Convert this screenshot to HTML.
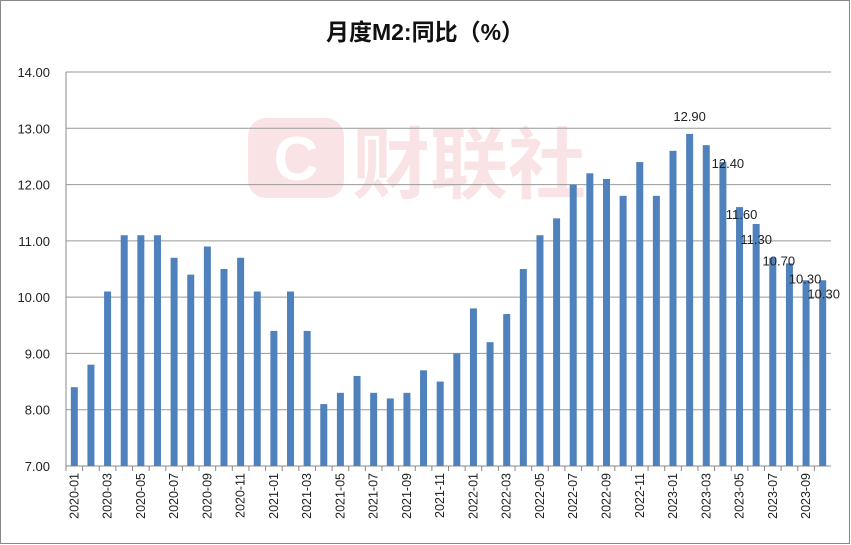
<!DOCTYPE html>
<html><head><meta charset="utf-8"><style>
body{margin:0;background:#fff;}
svg{display:block;font-family:"Liberation Sans","Noto Sans CJK SC",sans-serif;}
</style></head><body>
<svg id="chart" width="851" height="545" viewBox="0 0 851 545">
<rect x="0.5" y="0.5" width="849" height="543" fill="#fff" stroke="#888"/>
<g opacity="0.13">
<rect x="248" y="118" width="96" height="80" rx="18" fill="#e0303a"/>
<text x="296" y="180" font-size="62" font-weight="bold" fill="#fff" text-anchor="middle">C</text>
<text x="352" y="192" font-size="78" font-weight="bold" fill="#e0303a">财联社</text>
</g>
<text x="425" y="40" font-size="23" font-weight="bold" text-anchor="middle" fill="#111">月度M2:同比（%）</text>
<g id="grid"></g><g id="bars"></g><g id="labels"></g><g id="xaxis"></g>
</svg>
<script>
const categories=[];for(let y=2020;y<=2023;y++)for(let m=1;m<=12;m++){if(y===2023&&m>10)break;categories.push(y+'-'+String(m).padStart(2,'0'));}
const values=[8.4,8.8,10.1,11.1,11.1,11.1,10.7,10.4,10.9,10.5,10.7,10.1,
9.4,10.1,9.4,8.1,8.3,8.6,8.3,8.2,8.3,8.7,8.5,9.0,
9.8,9.2,9.7,10.5,11.1,11.4,12.0,12.2,12.1,11.8,12.4,11.8,
12.6,12.9,12.7,12.4,11.6,11.3,10.7,10.6,10.3,10.3];
const yTicks=[7,8,9,10,11,12,13,14];
const labelIdx=[37,39,40,41,42,44,45];
const labelOff=[[0,-18],[5,1],[2,7],[0,15],[6,3],[-1,-2],[1,13]];
const NS='http://www.w3.org/2000/svg';
const x0=66,x1=831,yTop=72,yBot=466,vMin=7,vMax=14;
const slot=(x1-x0)/categories.length;
const yS=v=>yBot-(v-vMin)/(vMax-vMin)*(yBot-yTop);
const xC=i=>x0+slot*(i+0.5);
function mk(tag,attrs,parent,txt){const e=document.createElementNS(NS,tag);for(const k in attrs)e.setAttribute(k,attrs[k]);if(txt!=null)e.textContent=txt;document.getElementById(parent).appendChild(e);return e;}
yTicks.forEach(t=>{
 const l=mk('line',{x1:x0,x2:x1,y1:yS(t),y2:yS(t),stroke:t===vMin?'#888':'#999','stroke-width':1},'grid');
 
 
 const tx=mk('text',{x:50,y:yS(t)+5,'font-size':13,'text-anchor':'end',fill:'#222'},'grid',t.toFixed(2));
 
 
});
const ax=mk('line',{x1:x0,x2:x0,y1:yTop,y2:yBot,stroke:'#888'},'grid');


values.forEach((v,i)=>{
 const r=mk('rect',{x:xC(i)-3.5,y:yS(v),width:7,height:yBot-yS(v),fill:'#4f81bd'},'bars');
 
 
});
categories.forEach((c,i)=>{
 const tk=mk('line',{x1:x0+slot*i,x2:x0+slot*i,y1:yBot,y2:yBot+5,stroke:'#888'},'xaxis');
 
 
 if(i%2===0){
  const cx=xC(i)+4,cy=473;
  const t=mk('text',{x:cx,y:cy,'font-size':12.5,'text-anchor':'end',fill:'#222',transform:`rotate(-90 ${cx} ${cy})`},'xaxis',c);
  
  
 }
});
labelIdx.forEach((idx,k)=>{
 const t=mk('text',{x:xC(idx)+labelOff[k][0],y:yS(values[idx])+labelOff[k][1]+5,'font-size':13,'text-anchor':'middle',fill:'#222'},'labels',values[idx].toFixed(2));
 
 
});
</script>
</body></html>
